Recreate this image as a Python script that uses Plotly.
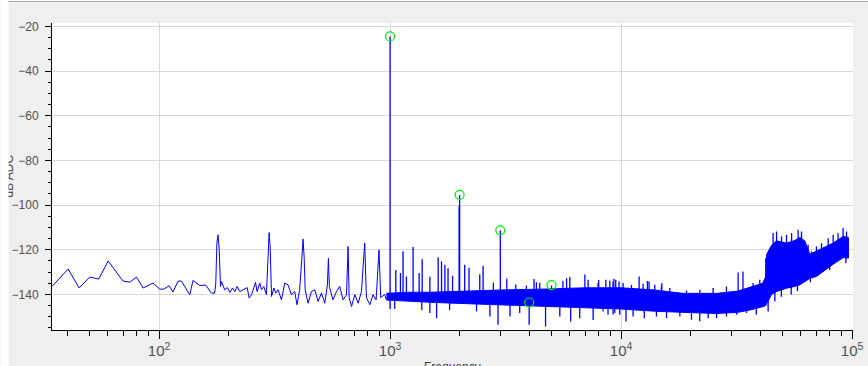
import numpy as np
import plotly.graph_objects as go

# ---------------- data ----------------
LOW_FREQ = [34.4, 40.4, 45.1, 50.1, 54.8, 60.2, 69.8, 74.7, 79.8, 85.3, 94.2, 100.7, 104.8,
            110.5, 115, 120.8, 125, 135.8, 140.3, 150, 159, 168.6, 174, 176, 178, 180, 182,
            184.5, 186.5, 192.3, 197.6, 202.4, 208, 212.8, 217.8, 223.6, 231, 240.6, 245.5,
            251.4, 257, 261.5, 265.7, 272.9, 277.5, 284, 291.6, 296.5, 299.5, 302.6, 306.8,
            314, 320, 327.5, 338.6, 350, 361.6, 374, 386.5, 395.5, 406, 415.6, 420, 424.5,
            429, 441.6, 456.8, 472, 488, 504.7, 521.6, 535.6, 540.9, 546, 566, 586, 605, 626,
            647.8, 658, 665, 681, 703.6, 727.5, 751.8, 776.6, 790, 817, 844, 870, 895.6, 911,
            948, 964]
LOW_DB = [-136.4, -128.6, -137.1, -132.2, -133.1, -125.0, -134.0, -134.5, -132.2, -137.1, -134.9,
          -137.6, -137.6, -136.1, -138.9, -134.0, -134.0, -140.1, -133.7, -136.0, -135.8, -139.4,
          -139.4, -134.9, -117.0, -113.3, -119.2, -136.4, -134.2, -137.9, -136.9, -139.1, -137.1,
          -138.7, -136.4, -138.7, -137.9, -136.9, -141.6, -140.1, -137.1, -134.6, -138.7, -134.9,
          -137.9, -136.4, -140.1, -123.7, -112.3, -118.5, -140.9, -137.1, -139.4, -137.9, -142.4,
          -134.9, -135.7, -140.1, -138.7, -144.6, -137.9, -123.0, -115.2, -123.0, -137.9, -143.9,
          -138.7, -137.9, -143.1, -139.4, -143.9, -135.7, -123.7, -136.4, -142.4, -138.7, -136.4,
          -142.4, -140.1, -118.5, -141.4, -145.4, -140.1, -143.9, -138.7, -117.0, -141.4, -144.6,
          -140.1, -142.5, -120.0, -141.4, -140.0, -142.4]

BAND_FREQ = [964, 1200, 1500, 2000, 3000, 5000, 7000, 10000, 14000, 18500, 26000, 32000, 36000,
             41000, 42300, 42700, 44800, 47100, 52000, 56000, 59400, 62400, 65600, 70100, 76000,
             82800, 91500, 96500]
BAND_UPPER = [-139.5, -139.0, -139.0, -138.5, -138.0, -137.5, -137.0, -137.0, -138.0, -139.5,
              -139.5, -138.5, -137.0, -135.0, -132.0, -122.0, -118.0, -116.0, -117.0, -116.0,
              -114.5, -116.0, -122.0, -120.5, -119.0, -117.0, -114.0, -114.5]
BAND_LOWER = [-142.5, -143.0, -143.5, -144.0, -144.5, -145.5, -146.0, -146.5, -147.5, -148.0,
              -148.5, -148.0, -147.0, -145.5, -145.0, -144.0, -140.0, -138.7, -137.2, -136.5,
              -135.7, -134.2, -132.8, -131.9, -129.5, -126.5, -123.5, -123.7]

SPIKE_FREQ = [1000, 1059, 1109, 1138, 1177, 1258, 1336, 1377, 1487, 1615, 1670, 1727, 1782, 1864,
              1990, 2000, 2104, 2196, 2445, 2528, 2800, 3000, 3200, 3500, 3890, 4200, 4300, 4446,
              5000, 5600, 5808, 6000, 6970, 7200, 7945, 8000, 8590, 8935, 9230, 9300, 9480, 9800,
              10200, 11090, 11970, 12450, 13000, 13210, 13990, 14950, 15000, 16250, 19190, 21920,
              25020, 28580, 32110, 33700, 37270, 39840, 42300,
              45500, 47100, 49500, 52000, 54700, 58400, 60400, 64500, 66700, 70100, 73700, 78800,
              82800, 86900, 91400, 94600,
              1000, 1047, 1372, 1487, 1590, 1810, 2367, 2705, 2933, 3304, 3640, 4000, 4710, 5430,
              6050, 6620, 7570, 8360, 8780, 9230, 9390, 9870, 10500, 11270, 12600, 14220, 15730,
              17960, 20170, 21900, 23820, 25900, 28580, 31620, 34920, 38500, 43300, 46300, 49400,
              54500, 58000, 66000, 80000, 94000]
SPIKE_DB = [-24.5, -129.0, -130.4, -120.7, -132.0, -118.8, -130.4, -124.2, -132.1, -123.3, -125.2,
            -126.7, -128.3, -131.6, -100.3, -95.6, -126.7, -128.0, -131.0, -127.2, -134.7, -111.3,
            -133.0, -135.5, -136.0, -133.1, -134.5, -134.7, -136.0, -134.0, -132.7, -132.2,
            -131.1, -133.4, -134.7, -133.5, -133.4, -133.7, -134.2, -133.0, -133.4, -134.2,
            -134.9, -135.7, -131.9, -135.2, -134.0, -134.2, -135.7, -136.4, -135.0, -137.1,
            -138.2, -137.9, -137.1, -136.4, -130.2, -129.7, -134.9, -133.4, -123.7,
            -112.5, -111.8, -114.0, -113.3, -112.5, -111.0, -111.8, -117.7, -120.7, -118.5,
            -117.0, -114.8, -113.3, -112.5, -110.3, -111.8,
            -146.5, -146.5, -147.0, -148.3, -150.6, -147.0, -147.6, -149.9, -153.6, -149.9,
            -148.3, -153.6, -154.3, -149.9, -152.1, -150.6, -151.4, -147.6, -149.1, -149.0,
            -148.3, -149.1, -152.1, -149.9, -150.6, -149.9, -150.6, -149.9, -151.3, -152.0,
            -150.6, -150.6, -149.9, -149.1, -148.3, -149.1, -147.6, -143.1, -141.0, -140.0,
            -138.5, -134.5, -129.0, -126.0]

HARM_FREQ = [1000, 2000, 3000, 4000, 5000]
HARM_DB = [-24.5, -95.4, -111.3, -143.6, -135.8]

Y_TICKS = [-20, -40, -60, -80, -100, -120, -140]

# ---------------- layout geometry ----------------
W, H = 868, 366
ML, MR, MT, MB = 52, 15, 23, 36
PW, PH = W - ML - MR, H - MT - MB


def px_x(px):
    return (px - ML) / PW


def px_y(py):
    return (H - MB - py) / PH


BLUE = "#0000ff"

fig = go.Figure()

# low-frequency trace
fig.add_trace(go.Scatter(x=LOW_FREQ, y=LOW_DB, mode="lines",
                         line=dict(color=BLUE, width=1), hoverinfo="skip", showlegend=False))

# dense noise band
band_x = BAND_FREQ + BAND_FREQ[::-1]
band_y = BAND_UPPER + BAND_LOWER[::-1]
fig.add_trace(go.Scatter(x=band_x, y=band_y, mode="lines", fill="toself", fillcolor=BLUE,
                         line=dict(color=BLUE, width=1), hoverinfo="skip", showlegend=False))

# spikes
lf = np.log10(BAND_FREQ)
mid = (np.array(BAND_UPPER) + np.array(BAND_LOWER)) / 2
sx, sy = [], []
for f, d in zip(SPIKE_FREQ, SPIKE_DB):
    base = float(np.interp(np.log10(f), lf, mid))
    sx += [f, f, None]
    sy += [base, d, None]
fig.add_trace(go.Scatter(x=sx, y=sy, mode="lines", line=dict(color=BLUE, width=1.3),
                         hoverinfo="skip", showlegend=False))

# harmonic markers
fig.add_trace(go.Scatter(x=HARM_FREQ, y=HARM_DB, mode="markers",
                         marker=dict(symbol="circle-open", size=9, color="#00ee00",
                                     line=dict(width=1.2, color="#00ee00")),
                         hoverinfo="skip", showlegend=False))

TICKFONT = dict(family="Liberation Sans, Arial, sans-serif", size=12, color="#505050")

fig.update_xaxes(type="log", range=[np.log10(34.4), np.log10(100900)], dtick=1,
                 exponentformat="power", showexponent="all", automargin=False,
                 showline=True, linecolor="black", linewidth=1, mirror=False,
                 ticks="outside", ticklen=8, tickcolor="black", tickwidth=1,
                 showgrid=True, gridcolor="#d9d9d9", gridwidth=1, zeroline=False,
                 tickfont=TICKFONT,
                 minor=dict(dtick="D1", ticks="outside", ticklen=5, tickcolor="black",
                            showgrid=False))
fig.update_yaxes(range=[-155.9, -18.5], tickvals=Y_TICKS, automargin=False,
                 showline=True, linecolor="black", linewidth=1, mirror=False,
                 ticks="outside", ticklen=6, tickcolor="black", tickwidth=1,
                 showgrid=True, gridcolor="#d9d9d9", gridwidth=1, zeroline=False,
                 tickfont=TICKFONT, ticklabelstandoff=4,
                 minor=dict(dtick=5, tick0=0, ticks="outside", ticklen=3, tickcolor="black",
                            showgrid=False))

fig.update_layout(
    width=W, height=H, autosize=False, margin=dict(l=ML, r=MR, t=MT, b=MB, pad=0),
    paper_bgcolor="#efefef", plot_bgcolor="white",
    font=dict(family="Liberation Sans, Arial, sans-serif"),
    shapes=[
        dict(type="rect", xref="paper", yref="paper", x0=px_x(-5), x1=px_x(W + 5),
             y0=px_y(1.5), y1=px_y(-5), fillcolor="white", line=dict(width=0), layer="below"),
        dict(type="line", xref="paper", yref="paper", x0=px_x(7), x1=px_x(W + 5),
             y0=px_y(1.5), y1=px_y(1.5), line=dict(color="#a8a8a8", width=1)),
        dict(type="line", xref="paper", yref="paper", x0=px_x(7.5), x1=px_x(7.5),
             y0=px_y(1.5), y1=px_y(H + 5), line=dict(color="#a8a8a8", width=1)),
    ],
    annotations=[
        dict(text="dB ADC", textangle=-90, xref="paper", yref="paper", x=px_x(8), y=0.5,
             xanchor="center", yanchor="middle", showarrow=False,
             font=dict(size=12, color="#444444")),
        dict(text=" ", xref="paper", yref="paper", x=px_x(0), y=0.5, xanchor="left",
             yanchor="middle", width=7, height=500, borderpad=0, bgcolor="white",
             showarrow=False),
        dict(text="Frequency", xref="paper", yref="paper", x=0.5, y=px_y(358),
             xanchor="center", yanchor="top", showarrow=False,
             font=dict(size=12, color="#444444")),
    ],
)

fig.write_html("out.html", config={"displayModeBar": False, "responsive": False},
               post_script="document.body.style.margin='0px';")
